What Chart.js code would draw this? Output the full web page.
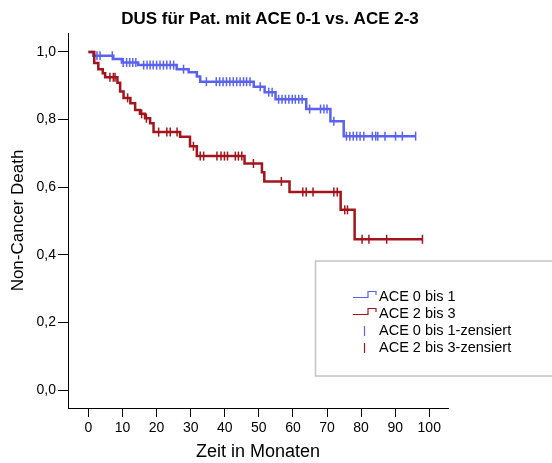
<!DOCTYPE html>
<html>
<head>
<meta charset="utf-8">
<script src="https://cdn.jsdelivr.net/npm/chart.js@4.4.1/dist/chart.umd.min.js"></script>
<style>
  html, body { margin: 0; padding: 0; background: #fff; }
  #wrap { width: 552px; height: 463px; }
</style>
</head>
<body>
<div id="wrap"><canvas id="km-chart" width="552" height="463"></canvas></div>
<script>
// Kaplan-Meier steps: event time (months) and survival after the step
var blueTimes = [0, 1.4, 7.3, 9.8, 14.6, 25.9, 29.4, 31.8, 32.8, 48.5, 51.7, 54.9, 63.9, 71.0, 74.9, 96.0];
var blueSurv  = [1.0, 0.989, 0.979, 0.969, 0.961, 0.949, 0.940, 0.927, 0.912, 0.897, 0.881, 0.860, 0.831, 0.795, 0.751, 0.751];
var blueCensored = [2.5, 3.4, 7.0, 10.2, 11.2, 12.1, 13.0, 13.9, 16.2, 17.2, 18.1, 19.0, 20.0, 21.0, 22.0, 23.0, 24.0, 25.0,
	27.9, 34.6, 37.5, 38.5, 39.5, 40.5, 41.5, 42.5, 43.5, 44.5, 45.5, 46.4, 47.4, 50.4, 52.9, 53.9, 55.8, 56.8, 57.8, 58.8,
	59.8, 60.7, 61.7, 62.7, 64.9, 68.1, 69.1, 70.0, 72.0, 75.7, 76.7, 77.7, 78.7, 79.7, 80.8, 83.3, 84.3, 84.9, 87.0, 90.1,
	92.1, 96.0];

var redTimes = [0, 1.7, 2.9, 4.2, 4.9, 8.5, 9.3, 10.3, 12.3, 13.7, 15.1, 16.6, 18.1, 19.1, 26.9, 29.8, 31.8, 45.8, 50.9, 51.6, 59.0, 74.0, 78.1, 98.0];
var redSurv  = [1.0, 0.967, 0.949, 0.937, 0.925, 0.909, 0.883, 0.864, 0.848, 0.828, 0.817, 0.804, 0.789, 0.763, 0.749, 0.721, 0.692, 0.670, 0.644, 0.617, 0.586, 0.533, 0.446, 0.446];
var redCensored = [6.3, 7.3, 7.8, 11.5, 15.6, 17.0, 20.6, 23.0, 24.0, 26.0, 30.8, 32.8, 33.8, 37.7, 38.9, 39.9, 40.8, 43.1,
	44.0, 45.0, 48.4, 56.6, 62.9, 63.9, 65.9, 72.0, 73.0, 75.2, 76.0, 80.3, 82.3, 87.5, 98.0];

var xTicks = [0, 10, 20, 30, 40, 50, 60, 70, 80, 90, 100];
var yTicks = [0, 0.2, 0.4, 0.6, 0.8, 1.0];

var seriesLabels = ['ACE 0 bis 1', 'ACE 2 bis 3', 'ACE 0 bis 1-zensiert', 'ACE 2 bis 3-zensiert'];

var blue = '#5a62f2';
var red = '#a3141c';
var fontFamily = '"Liberation Sans", Arial, sans-serif';

var toPoints = function(times, vals) {
	var res = [];
	for (var i = 0; i < times.length; i++) {
		res.push({x: times[i], y: vals[i]});
	}
	return res;
};

// survival value of the step curve at time t
var survAt = function(times, vals, t) {
	var v = vals[0];
	for (var i = 0; i < times.length; i++) {
		if (times[i] <= t) { v = vals[i]; }
	}
	return v;
};

var censorPoints = function(cens, times, vals) {
	return cens.map(function(t) { return {x: t, y: survAt(times, vals, t)}; });
};

var titlePlugin = {
	id: 'kmTitle',
	afterDraw: function(chart) {
		var ctx = chart.ctx;
		ctx.save();
		ctx.fillStyle = '#000';
		ctx.font = 'bold 17px ' + fontFamily;
		ctx.textAlign = 'center';
		ctx.textBaseline = 'alphabetic';
		ctx.fillText('DUS für Pat. mit ACE 0-1 vs. ACE 2-3', 270, 24);
		ctx.restore();
	}
};

// SPSS-style legend box with step and censor symbols
var legendPlugin = {
	id: 'kmLegend',
	afterDraw: function(chart) {
		var ctx = chart.ctx;
		var ds = chart.data.datasets;
		ctx.save();
		ctx.strokeStyle = '#c4c4c4';
		ctx.lineWidth = 1.5;
		ctx.strokeRect(315.5, 261, 260, 115);

		ctx.font = '14.5px ' + fontFamily;
		ctx.textBaseline = 'middle';
		ctx.textAlign = 'left';
		var rowY = [297, 314, 331, 348];
		for (var i = 0; i < ds.length; i++) {
			var y = rowY[i];
			ctx.strokeStyle = ds[i].borderColor;
			ctx.lineWidth = 1.2;
			ctx.beginPath();
			if (i < 2) {
				ctx.moveTo(353, y + 0.5);
				ctx.lineTo(368, y + 0.5);
				ctx.lineTo(368, y - 5.5);
				ctx.lineTo(376, y - 5.5);
				ctx.lineTo(376, y - 2);
			} else {
				ctx.moveTo(364.5, y - 5);
				ctx.lineTo(364.5, y + 5);
			}
			ctx.stroke();
			ctx.fillStyle = '#000';
			ctx.fillText(ds[i].label, 379, y);
		}
		ctx.restore();
	}
};

var ctx = document.getElementById('km-chart').getContext('2d');
var kmChart = new Chart(ctx, {
	type: 'line',
	data: {
		datasets: [{
			label: seriesLabels[0],
			data: toPoints(blueTimes, blueSurv),
			borderColor: blue,
			borderWidth: 2.5,
			stepped: 'before',
			pointRadius: 0,
			order: 3
		}, {
			label: seriesLabels[1],
			data: toPoints(redTimes, redSurv),
			borderColor: red,
			borderWidth: 2.5,
			stepped: 'before',
			pointRadius: 0,
			order: 1
		}, {
			label: seriesLabels[2],
			data: censorPoints(blueCensored, blueTimes, blueSurv),
			borderColor: blue,
			showLine: false,
			pointStyle: 'line',
			rotation: 90,
			pointRadius: 4.5,
			pointBorderWidth: 1.5,
			order: 2
		}, {
			label: seriesLabels[3],
			data: censorPoints(redCensored, redTimes, redSurv),
			borderColor: red,
			showLine: false,
			pointStyle: 'line',
			rotation: 90,
			pointRadius: 4.5,
			pointBorderWidth: 1.5,
			order: 0
		}]
	},
	options: {
		responsive: false,
		animation: false,
		events: [],
		layout: { padding: { top: 33, right: 104, left: 0, bottom: 0 } },
		plugins: {
			legend: { display: false },
			title: { display: false },
			tooltip: { enabled: false }
		},
		scales: {
			x: {
				type: 'linear',
				min: -6,
				max: 105.5,
				afterFit: function(scale) { scale.height = 55; },
				afterBuildTicks: function(scale) {
					scale.ticks = xTicks.map(function(v) { return {value: v}; });
				},
				border: { display: true, color: '#000', width: 1 },
				grid: { drawOnChartArea: false, drawTicks: true, tickLength: 9, color: '#000', lineWidth: 1 },
				ticks: {
					color: '#000',
					padding: 3,
					maxRotation: 0,
					font: { family: fontFamily, size: 14 },
					callback: function(v) { return String(v); }
				},
				title: {
					display: true,
					text: 'Zeit in Monaten',
					color: '#000',
					padding: { top: 0, bottom: 0 },
					font: { family: fontFamily, size: 18 }
				}
			},
			y: {
				type: 'linear',
				min: -0.053,
				max: 1.056,
				afterFit: function(scale) { scale.width = 68; },
				afterBuildTicks: function(scale) {
					scale.ticks = yTicks.map(function(v) { return {value: v}; });
				},
				border: { display: true, color: '#000', width: 1 },
				grid: { drawOnChartArea: false, drawTicks: true, tickLength: 10, color: '#000', lineWidth: 1 },
				ticks: {
					color: '#000',
					padding: 2,
					font: { family: fontFamily, size: 14 },
					callback: function(v) { return v.toFixed(1).replace('.', ','); }
				},
				title: {
					display: true,
					text: 'Non-Cancer Death',
					color: '#000',
					padding: { top: 8, bottom: 0 },
					font: { family: fontFamily, size: 17 }
				}
			}
		}
	},
	plugins: [titlePlugin, legendPlugin]
});
</script>
</body>
</html>
